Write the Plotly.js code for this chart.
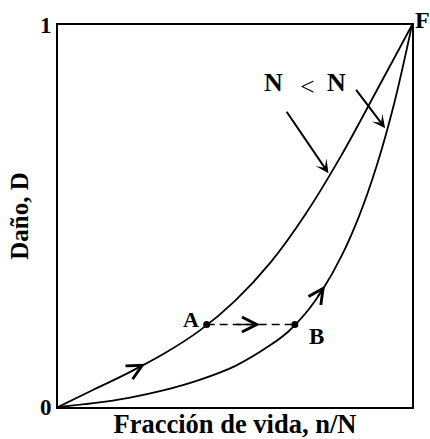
<!DOCTYPE html>
<html>
<head>
<meta charset="utf-8">
<script src="https://cdn.plot.ly/plotly-3.0.1.min.js"></script>
<style>html,body{margin:0;padding:0;background:#fff;}#chart{width:430px;height:439px;}</style>
</head>
<body>
<div id="chart"></div>
<script>
// Curve for N1 (upper)
const upperX = [0, 0.1, 0.2, 0.3, 0.4, 0.5, 0.6, 0.7, 0.8, 0.9, 1.0];
const upperY = [0, 0.045, 0.09, 0.14, 0.2, 0.278, 0.378, 0.506, 0.658, 0.828, 1.0];
// Curve for N2 (lower)
const lowerX = [0, 0.1, 0.2, 0.3, 0.4, 0.5, 0.6, 0.65, 0.7, 0.75, 0.8, 0.85, 0.9, 0.95, 1.0];
const lowerY = [0, 0.010, 0.024, 0.044, 0.071, 0.107, 0.162, 0.197, 0.246, 0.311, 0.3935, 0.4985, 0.631, 0.796, 1.0];
// Points A and B
const pointNames = ['A', 'B'];
const pointX = [0.42, 0.669];
const pointY = [0.216, 0.216];
// Tick labels
const yTickVals = [0, 1];
const yTickText = ['0', '1'];

function interp(xs, ys, x) {
  for (let i = 0; i < xs.length - 1; i++) {
    if (x >= xs[i] && x <= xs[i + 1]) {
      const t = (x - xs[i]) / (xs[i + 1] - xs[i]);
      return ys[i] + t * (ys[i + 1] - ys[i]);
    }
  }
  return ys[ys.length - 1];
}

const SERIF = 'Liberation Serif, Times New Roman, serif';
const lineStyle = {color: '#000', width: 1.8, shape: 'spline', smoothing: 1};

const traces = [
  {x: upperX, y: upperY, mode: 'lines', line: lineStyle, hoverinfo: 'skip', showlegend: false},
  {x: lowerX, y: lowerY, mode: 'lines', line: lineStyle, hoverinfo: 'skip', showlegend: false},
  {x: pointX, y: pointY, mode: 'lines+markers',
   line: {color: '#000', width: 1.5, dash: '8px,5px'},
   marker: {color: '#000', size: 7}, hoverinfo: 'skip', showlegend: false}
];

function chevron(x0, y0, x1, y1) {
  return {x: x1, y: y1, ax: x0, ay: y0, xref: 'x', yref: 'y', axref: 'x', ayref: 'y',
    text: '', showarrow: true, arrowhead: 5, arrowsize: 2.1, arrowwidth: 1.4, arrowcolor: '#000'};
}
function pointer(x0, y0, x1, y1) {
  return {x: x1, y: y1, ax: x0, ay: y0, xref: 'x', yref: 'y', axref: 'x', ayref: 'y',
    text: '', showarrow: true, arrowhead: 3, arrowsize: 1.1, arrowwidth: 2, arrowcolor: '#000'};
}
function label(text, x, y, size, bold) {
  return {x: x, y: y, xref: 'x', yref: 'y', text: text, showarrow: false,
    font: {family: SERIF, size: size, color: '#000', weight: bold ? 'bold' : 'normal'}};
}

const annotations = [
  chevron(0.20, interp(upperX, upperY, 0.20), 0.246, interp(upperX, upperY, 0.246)),
  chevron(0.73, interp(lowerX, lowerY, 0.73), 0.754, interp(lowerX, lowerY, 0.754)),
  chevron(0.50, pointY[0], 0.571, pointY[0]),
  pointer(0.643, 0.777, 0.764, 0.612),
  pointer(0.839, 0.834, 0.924, 0.730),
  label('N', 0.608, 0.849, 26, true),
  label('&lt;', 0.704, 0.838, 26, false),
  label('N', 0.788, 0.849, 26, true),
  label(pointNames[0], 0.376, 0.228, 22, true),
  label(pointNames[1], 0.729, 0.184, 23, true),
  {x: 1, y: 1.013, xref: 'paper', yref: 'paper', xanchor: 'left', yanchor: 'middle', xshift: 1,
   text: 'F', showarrow: false,
   font: {family: SERIF, size: 24, color: '#000', weight: 'bold'}}
];

const layout = {
  width: 430, height: 439,
  margin: {l: 58, r: 18, t: 25, b: 32},
  paper_bgcolor: '#fff', plot_bgcolor: '#fff',
  font: {family: SERIF, color: '#000'},
  xaxis: {range: [0, 1], showgrid: false, zeroline: false, showline: true, mirror: true,
    linecolor: '#000', linewidth: 2, ticks: '', showticklabels: false, fixedrange: true,
    title: {text: 'Fracción de vida, n/N', standoff: 13,
      font: {family: SERIF, size: 26.5, color: '#000', weight: 'bold'}}},
  yaxis: {range: [0, 1], showgrid: false, zeroline: false, showline: true, mirror: true,
    linecolor: '#000', linewidth: 2, ticks: '', tickvals: yTickVals, ticktext: yTickText,
    tickfont: {family: SERIF, size: 23, color: '#000', weight: 'bold'}, fixedrange: true,
    title: {text: 'Daño, D', standoff: 4,
      font: {family: SERIF, size: 25, color: '#000', weight: 'bold'}}},
  annotations: annotations
};

Plotly.newPlot('chart', traces, layout, {displayModeBar: false, staticPlot: true});
</script>
</body>
</html>
